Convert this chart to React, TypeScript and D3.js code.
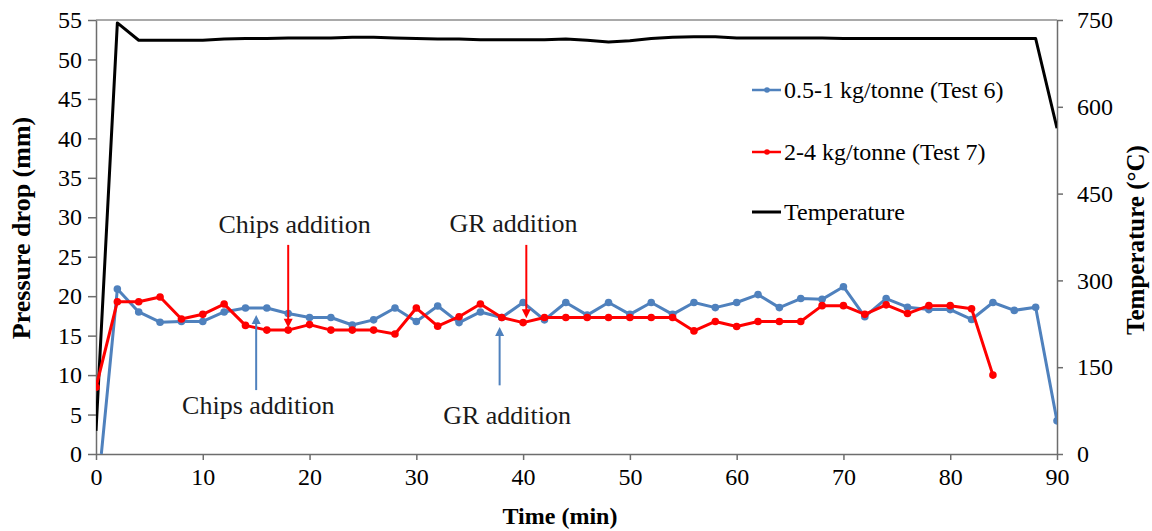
import React, { useEffect, useRef } from 'react';
import * as d3 from 'd3';

// Test 6 (0.5-1 kg/tonne), pressure drop in mm
const blueTime = [0.5, 2, 4, 6, 8, 10, 12, 14, 16, 18, 20, 22, 24, 26, 28, 30, 32, 34, 36, 38, 40, 42, 44, 46, 48, 50, 52, 54, 56, 58, 60, 62, 64, 66, 68, 70, 72, 74, 76, 78, 80, 82, 84, 86, 88, 90];
const blueValues = [0, 20.9, 18.0, 16.7, 16.8, 16.8, 18.0, 18.5, 18.5, 17.8, 17.3, 17.3, 16.35, 17.0, 18.5, 16.8, 18.75, 16.65, 18.0, 17.3, 19.2, 17.0, 19.2, 17.6, 19.2, 17.7, 19.2, 17.7, 19.2, 18.55, 19.2, 20.2, 18.55, 19.7, 19.6, 21.2, 17.4, 19.7, 18.6, 18.3, 18.3, 17.05, 19.2, 18.2, 18.6, 4.2];

// Test 7 (2-4 kg/tonne)
const redTime = [0, 2, 4, 6, 8, 10, 12, 14, 16, 18, 20, 22, 24, 26, 28, 30, 32, 34, 36, 38, 40, 42, 44, 46, 48, 50, 52, 54, 56, 58, 60, 62, 64, 66, 68, 70, 72, 74, 76, 78, 80, 82, 84];
const redValues = [8.45, 19.3, 19.3, 19.9, 17.1, 17.7, 19.0, 16.3, 15.7, 15.7, 16.4, 15.7, 15.7, 15.7, 15.2, 18.5, 16.2, 17.4, 19.0, 17.3, 16.65, 17.3, 17.3, 17.3, 17.3, 17.3, 17.3, 17.3, 15.6, 16.8, 16.15, 16.8, 16.8, 16.8, 18.8, 18.8, 17.7, 18.9, 17.8, 18.8, 18.8, 18.4, 10.0];

// temperature, °C (right axis)
const tempTime = [0, 2, 4, 6, 8, 10, 12, 14, 16, 18, 20, 22, 24, 26, 28, 30, 32, 34, 36, 38, 40, 42, 44, 46, 48, 50, 52, 54, 56, 58, 60, 62, 64, 66, 68, 70, 72, 74, 76, 78, 80, 82, 84, 86, 88, 90];
const tempValues = [40, 745, 715, 715, 715, 715, 717, 718, 718, 719, 719, 719, 720, 720, 719, 718, 717, 717, 716, 716, 716, 716, 717, 715, 712, 714, 718, 720, 721, 721, 719, 719, 719, 719, 719, 718, 718, 718, 718, 718, 718, 718, 718, 718, 718, 563];

const xTicks = [0, 10, 20, 30, 40, 50, 60, 70, 80, 90];
const yTicks = [0, 5, 10, 15, 20, 25, 30, 35, 40, 45, 50, 55];
const tempTicks = [0, 150, 300, 450, 600, 750];

const legendLabels = ['0.5-1 kg/tonne (Test 6)', '2-4 kg/tonne (Test 7)', 'Temperature'];

// annotation arrows: x in min, y in mm
const arrows = [
  { label: 'Chips addition', x: 18, from: 26.5, to: 16.0, lx: 18.6, ly: 29.2, color: '#ff0000' },
  { label: 'GR addition', x: 40.3, from: 26.5, to: 17.2, lx: 39.1, ly: 29.3, color: '#ff0000' },
  { label: 'Chips addition', x: 15, from: 8.1, to: 17.6, lx: 15.2, ly: 6.2, color: '#4f81bd' },
  { label: 'GR addition', x: 37.8, from: 8.7, to: 16.1, lx: 38.5, ly: 4.9, color: '#4f81bd' },
];

const BLUE = '#4f81bd';
const RED = '#ff0000';
const AXIS = '#6d6d6d';
const FONT = 'Liberation Serif';

const App = () => {
  const svgRef = useRef<SVGSVGElement>(null);

  useEffect(() => {
    const W = 1152, H = 531;
    const left = 96, right = 1057, top = 20, bottom = 454;

    const svg = d3.select(svgRef.current);
    svg.selectAll('*').remove();
    svg.attr('width', W).attr('height', H).style('font-family', FONT);

    const x = d3.scaleLinear().domain([0, 90]).range([left, right]);
    const y = d3.scaleLinear().domain([0, 55]).range([bottom, top]);
    const yT = d3.scaleLinear().domain([0, 750]).range([bottom, top]);

    svg.append('defs').append('clipPath').attr('id', 'plot')
      .append('rect').attr('x', left).attr('y', top - 6)
      .attr('width', right - left).attr('height', bottom - top + 6);

    // plot frame (top border)
    svg.append('line').attr('x1', left).attr('x2', right).attr('y1', top).attr('y2', top)
      .attr('stroke', '#8c8c8c').attr('stroke-width', 1.5);

    // axes
    const fontStyle = (g: any) => {
      g.attr('font-family', null);
      g.selectAll('text').style('font-family', FONT).attr('font-size', 24).attr('fill', '#000');
      g.select('.domain').attr('stroke', AXIS).attr('stroke-width', 1.5);
      g.selectAll('.tick line').attr('stroke', AXIS).attr('stroke-width', 1.5);
    };

    svg.append('g').attr('transform', `translate(0,${bottom})`)
      .call(d3.axisBottom(x).tickValues(xTicks).tickSizeInner(6).tickSizeOuter(0).tickPadding(8))
      .call(fontStyle);

    svg.append('g').attr('transform', `translate(${left},0)`)
      .call(d3.axisLeft(y).tickValues(yTicks).tickSizeInner(8).tickSizeOuter(0).tickPadding(6))
      .call(fontStyle);

    svg.append('g').attr('transform', `translate(${right},0)`)
      .call(d3.axisRight(yT).tickValues(tempTicks).tickSizeInner(6).tickSizeOuter(0).tickPadding(14))
      .call(fontStyle);

    // axis titles
    svg.append('text').attr('x', 560).attr('y', 524).attr('text-anchor', 'middle')
      .style('font-family', FONT).attr('font-size', 24).attr('font-weight', 'bold').text('Time (min)');
    svg.append('text').attr('transform', `translate(30,228) rotate(-90)`)
      .attr('text-anchor', 'middle')
      .style('font-family', FONT).attr('font-size', 26).attr('font-weight', 'bold').text('Pressure drop (mm)');
    svg.append('text').attr('transform', `translate(1144,240) rotate(-90)`)
      .attr('text-anchor', 'middle')
      .style('font-family', FONT).attr('font-size', 25).attr('font-weight', 'bold').text('Temperature (°C)');

    const plot = svg.append('g').attr('clip-path', 'url(#plot)');

    // temperature
    const tempData = tempTime.map((t, i) => [t, tempValues[i]]);
    plot.append('path')
      .attr('fill', 'none').attr('stroke', '#000').attr('stroke-width', 3)
      .attr('stroke-linejoin', 'round')
      .attr('d', d3.line().x(d => x(d[0])).y(d => yT(d[1]))(tempData as any));

    const series = [
      { color: BLUE, data: blueTime.map((t, i) => [t, blueValues[i]]) },
      { color: RED, data: redTime.map((t, i) => [t, redValues[i]]) },
    ];

    const line = d3.line().x(d => x(d[0])).y(d => y(d[1]));
    series.forEach(s => {
      plot.append('path')
        .attr('fill', 'none').attr('stroke', s.color).attr('stroke-width', 3)
        .attr('stroke-linejoin', 'round')
        .attr('d', line(s.data as any));
      plot.selectAll(null)
        .data(s.data.filter(d => d[1] > 0))
        .enter()
        .append('circle')
        .attr('cx', d => x(d[0]))
        .attr('cy', d => y(d[1]))
        .attr('r', 3.8)
        .attr('fill', s.color);
    });

    // annotations
    arrows.forEach(a => {
      const y1 = y(a.from), y2 = y(a.to);
      const dir = y2 > y1 ? 1 : -1;
      svg.append('line').attr('x1', x(a.x)).attr('x2', x(a.x))
        .attr('y1', y1).attr('y2', y2 - dir * 6)
        .attr('stroke', a.color).attr('stroke-width', 2);
      svg.append('path')
        .attr('d', `M${x(a.x) - 4.5},${y2 - dir * 9}L${x(a.x) + 4.5},${y2 - dir * 9}L${x(a.x)},${y2}Z`)
        .attr('fill', a.color);
      svg.append('text').attr('x', x(a.lx)).attr('y', y(a.ly)).attr('dy', '0.35em')
        .attr('text-anchor', 'middle').style('font-family', FONT).attr('font-size', 26)
        .attr('fill', '#1a1a1a').text(a.label);
    });

    // legend
    const legendColors = [BLUE, RED, '#000'];
    const legend = svg.selectAll('.legend')
      .data(legendLabels)
      .enter()
      .append('g')
      .attr('class', 'legend')
      .attr('transform', (d, i) => `translate(752,${[90, 152, 212][i]})`);

    legend.append('line').attr('x1', 0).attr('x2', 29).attr('y1', 0).attr('y2', 0)
      .attr('stroke', (d, i) => legendColors[i]).attr('stroke-width', (d, i) => (i === 2 ? 3 : 2.5));
    legend.filter((d, i) => i < 2).append('circle')
      .attr('cx', 15).attr('cy', 0).attr('r', 2.8)
      .attr('fill', (d, i) => legendColors[i]);
    legend.append('text').attr('x', 32).attr('y', 0).attr('dy', '0.35em')
      .style('font-family', FONT).attr('font-size', 24).attr('fill', '#000')
      .text(d => d);
  }, []);

  return (
    <svg ref={svgRef} style={{ position: 'absolute', left: 0, top: 0, background: '#fff' }}></svg>
  );
};

export default App;
